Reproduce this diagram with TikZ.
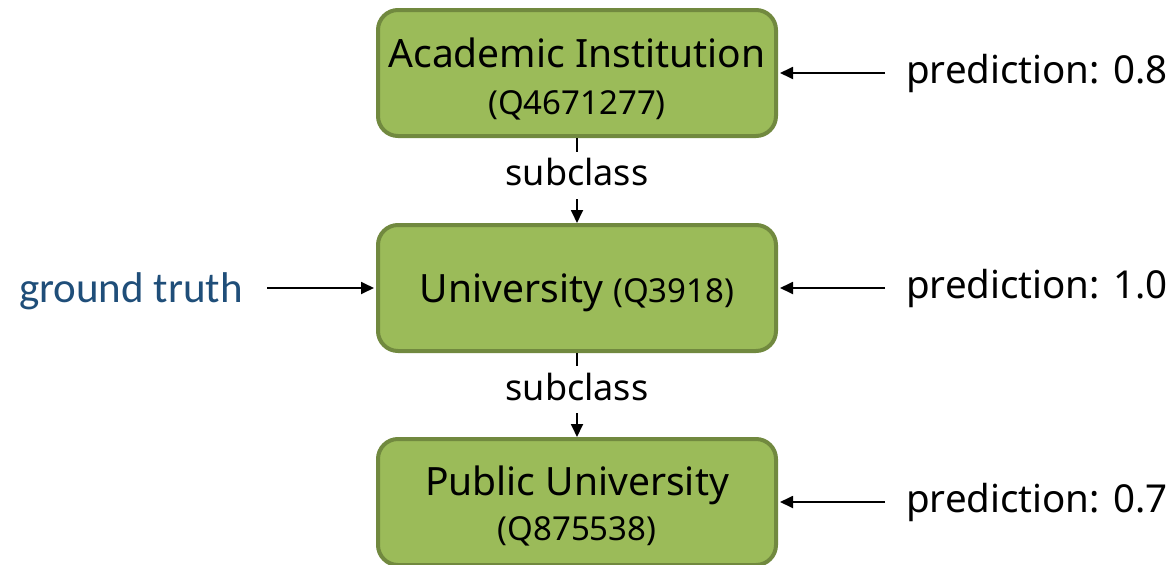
\documentclass[tikz,border=0pt]{standalone}
\usepackage{fontspec}
\setmainfont{Noto Sans}
\newfontfamily\labelfont{Carlito}
\usetikzlibrary{arrows.meta}
\definecolor{boxfill}{HTML}{9BBB59}
\definecolor{boxline}{HTML}{71893F}
\definecolor{truthblue}{HTML}{1F4E79}
\newcommand{\namefont}{\fontsize{39}{42}\selectfont}
\newcommand{\qidfont}{\fontsize{33}{36}\selectfont}
\tikzset{
  classbox/.style={draw=boxline, fill=boxfill, line width=4pt, rounded corners=20pt,
    minimum width=398pt, minimum height=126pt, align=center, inner sep=0pt,
    font=\namefont},
  oneline/.style={text height=29.6pt, text depth=0pt},
  classname/.style={anchor=base, inner sep=0pt, font=\namefont},
  classid/.style={anchor=base, inner sep=0pt, font=\qidfont},
  conn/.style={line width=1.8pt, -{Triangle[length=13pt,width=12pt]}},
  edgelabel/.style={fill=white, inner xsep=6pt, inner ysep=13pt, yshift=5.5pt,
    text height=21pt, text depth=0pt, font=\fontsize{36}{40}\selectfont},
  predlabel/.style={anchor=west, inner sep=0pt, font=\fontsize{38.5}{42}\selectfont},
}
\begin{document}
\begin{tikzpicture}[x=1pt, y=-1pt]
  \useasboundingbox (0,0) rectangle (1176,565);

  % class hierarchy
  \node[classbox] (academic) at (577,73) {};
  \node[classname] (academic-name) at (577,67) {Academic Institution};
  \node[classid] (academic-id) at (577,114) {(Q4671277)};

  \node[classbox, oneline] (university) at (577,288) {University {\qidfont (Q3918)}};

  \node[classbox] (public) at (577,502) {};
  \node[classname] (public-name) at (577,495) {Public University};
  \node[classid] (public-id) at (577,540) {(Q875538)};

  \draw[conn] (academic) -- node[edgelabel] {subclass} (university);
  \draw[conn] (university) -- node[edgelabel] {subclass} (public);

  % model scores
  \node[predlabel] (p1) at (906,73) {prediction: 0.8};
  \node[predlabel] (p2) at (906,288) {prediction: 1.0};
  \node[predlabel] (p3) at (906,502) {prediction: 0.7};
  \coordinate (s1) at (885,73);
  \coordinate (s2) at (885,288);
  \coordinate (s3) at (885,502);
  \draw[conn] (s1) -- ([xshift=2pt]academic.east);
  \draw[conn] (s2) -- ([xshift=2pt]university.east);
  \draw[conn] (s3) -- ([xshift=2pt]public.east);

  % reference label
  \node[anchor=east, inner sep=0pt, text=truthblue, font=\labelfont\fontsize{43}{46}\selectfont] (truth) at (243,291) {ground truth};
  \coordinate (t0) at (267,288);
  \draw[conn] (t0) -- ([xshift=-2pt]university.west);
\end{tikzpicture}
\end{document}
